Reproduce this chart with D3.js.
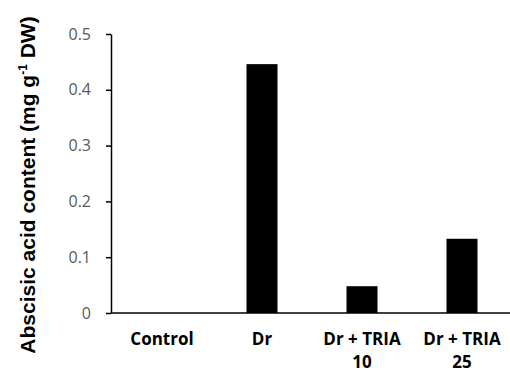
<!DOCTYPE html>
<html>
<head>
<meta charset="utf-8">
<script src="https://cdn.jsdelivr.net/npm/d3@7"></script>
<style>
  body { margin: 0; background: #fff; }
  .tickTxt { font-family: "Open Sans", sans-serif; font-size: 16px; fill: #595959; }
  .catTxt { font-family: "Open Sans", sans-serif; font-size: 17px; font-weight: bold; fill: #000; }
  .yTitle { font-family: "Liberation Sans", Arial, sans-serif; font-size: 21px; font-weight: bold; fill: #000; }
</style>
</head>
<body>
<div id="chart"></div>
<script>
// categories, values
var categories = ["Control", "Dr", "Dr + TRIA 10", "Dr + TRIA 25"];
var catLines = [["Control"], ["Dr"], ["Dr + TRIA", "10"], ["Dr + TRIA", "25"]];
var abaValues = [0, 0.446, 0.048, 0.133];
var yTicks = [0, 0.1, 0.2, 0.3, 0.4, 0.5];
var yTickLabels = ["0", "0.1", "0.2", "0.3", "0.4", "0.5"];

var W = 510, H = 373;
var axisX = 111, y0 = 313, yTop = 34;

var svg = d3.select("#chart").append("svg")
  .attr("width", W).attr("height", H);

var x = d3.scaleBand().domain(categories).range([axisX + 1, axisX + 401]).paddingInner(0.69).paddingOuter(0.345);
var y = d3.scaleLinear().domain([0, 0.5]).range([y0, yTop]);

// bars
svg.selectAll(".bar")
  .data(abaValues)
  .enter().append("rect")
  .attr("class", "bar")
  .attr("x", function(d, i) { return x(categories[i]); })
  .attr("y", function(d) { return y(d); })
  .attr("width", x.bandwidth())
  .attr("height", function(d) { return y0 - y(d); })
  .attr("fill", "#000");

// y axis
var yAxis = svg.append("g")
  .attr("transform", "translate(" + axisX + ",0)")
  .call(d3.axisLeft(y).tickValues(yTicks).tickSize(5).tickSizeOuter(0)
    .tickFormat(function(d, i) { return yTickLabels[i]; }));
yAxis.select(".domain").attr("stroke", "#000").attr("stroke-width", 1.5);
yAxis.selectAll(".tick line").attr("stroke", "#000").attr("stroke-width", 1.5);
yAxis.selectAll(".tick text").attr("class", "tickTxt").attr("x", -20).attr("fill", null);

// x axis line
svg.append("line")
  .attr("x1", axisX).attr("x2", W)
  .attr("y1", y0).attr("y2", y0)
  .attr("stroke", "#000").attr("stroke-width", 1.5);

// category labels
catLines.forEach(function(lines, i) {
  var cx = x(categories[i]) + x.bandwidth() / 2;
  lines.forEach(function(t, j) {
    svg.append("text")
      .attr("class", "catTxt")
      .attr("x", cx)
      .attr("y", 345 + j * 23)
      .attr("text-anchor", "middle")
      .text(t);
  });
});

// y title
var title = svg.append("text")
  .attr("class", "yTitle")
  .attr("transform", "translate(35,185) rotate(-90)")
  .attr("text-anchor", "middle");
title.append("tspan").text("Abscisic acid content (mg g");
title.append("tspan").attr("dy", -8).attr("font-size", 12).text("-1");
title.append("tspan").attr("dy", 8).text(" DW)");
</script>
</body>
</html>
